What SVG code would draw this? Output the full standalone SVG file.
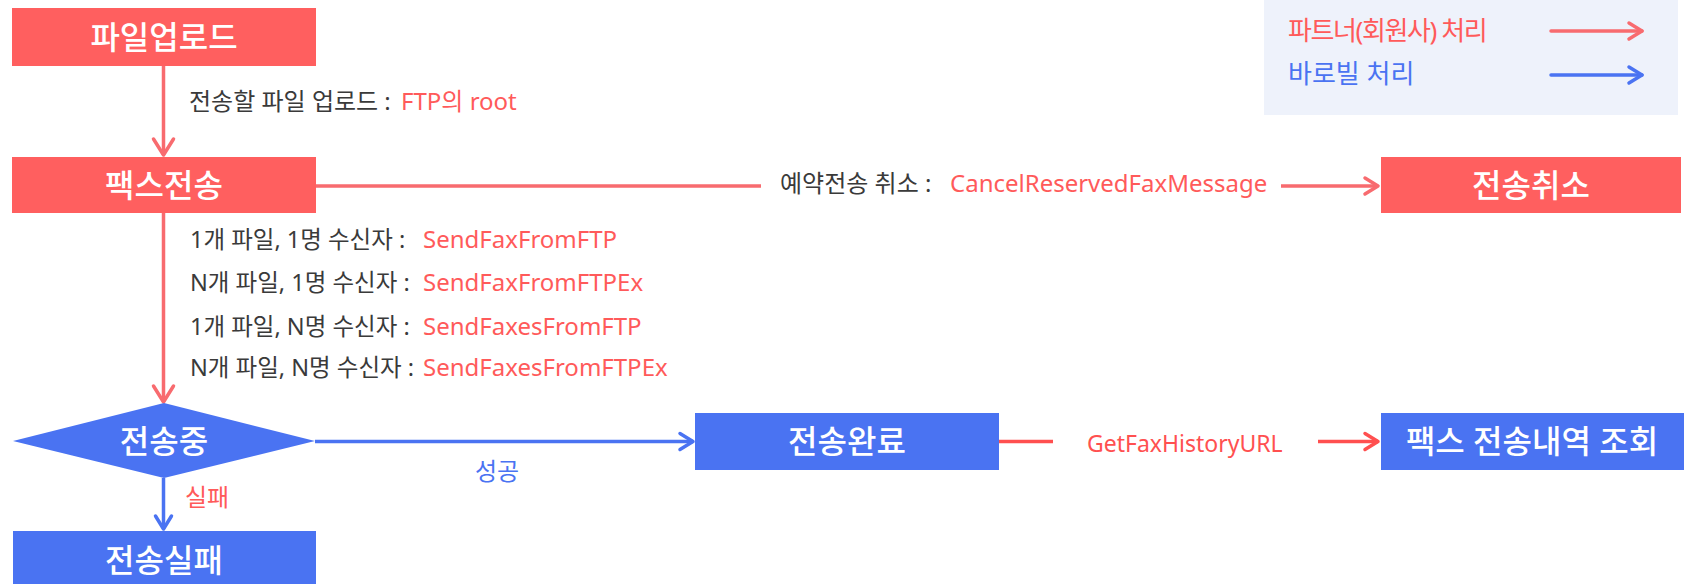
<svg xmlns="http://www.w3.org/2000/svg" width="1693" height="584" viewBox="0 0 1693 584">
  <defs>
    <style>
      text { font-family: "Noto Sans", "Noto Sans CJK KR", "Liberation Sans", sans-serif; }
      .node-red { fill: #FF5F5F; }
      .node-blue { fill: #4A73F2; }
      .ntext { fill: #FFFFFF; font-size: 32px; font-weight: 500; text-anchor: middle; }
      .lbl { fill: #3A3A3A; font-size: 24px; font-weight: 400; }
      .lbl-r { fill: #3A3A3A; font-size: 23.5px; font-weight: 400; }
      .api { fill: #FF5A5A; font-size: 24px; font-weight: 400; }
      .api-s { fill: #FF5050; font-size: 23px; font-weight: 400; }
      .blue-t { fill: #4A73F2; font-size: 24px; font-weight: 400; }
      .red-t { fill: #FF5A5A; font-size: 24px; font-weight: 400; }
      .leg-t { font-size: 26px; font-weight: 400; }
      .c-red { stroke: #F86B6F; stroke-width: 3.5; fill: none; }
      .c-red2 { stroke: #FF4F4F; stroke-width: 3.5; fill: none; }
      .c-blue { stroke: #4A73F2; stroke-width: 3.5; fill: none; }
    </style>
    <marker id="ah-red" viewBox="-20 -14 24 28" refX="0" refY="0" markerWidth="24" markerHeight="28" markerUnits="userSpaceOnUse" orient="auto">
      <path d="M-13,-8 L0,0 L-13,8" fill="none" stroke="#F86B6F" stroke-width="3.5" stroke-linecap="round" stroke-linejoin="round"/>
    </marker>
    <marker id="ah-red-big" viewBox="-20 -14 24 28" refX="0" refY="0" markerWidth="24" markerHeight="28" markerUnits="userSpaceOnUse" orient="auto">
      <path d="M-16,-10 L0,0 L-16,10" fill="none" stroke="#F86B6F" stroke-width="3.5" stroke-linecap="round" stroke-linejoin="round"/>
    </marker>
    <marker id="ah-red2" viewBox="-20 -14 24 28" refX="0" refY="0" markerWidth="24" markerHeight="28" markerUnits="userSpaceOnUse" orient="auto">
      <path d="M-13,-8 L0,0 L-13,8" fill="none" stroke="#FF4F4F" stroke-width="3.5" stroke-linecap="round" stroke-linejoin="round"/>
    </marker>
    <marker id="ah-blue" viewBox="-20 -14 24 28" refX="0" refY="0" markerWidth="24" markerHeight="28" markerUnits="userSpaceOnUse" orient="auto">
      <path d="M-13,-8 L0,0 L-13,8" fill="none" stroke="#4A73F2" stroke-width="3.5" stroke-linecap="round" stroke-linejoin="round"/>
    </marker>
  </defs>

  <rect x="0" y="0" width="1693" height="584" fill="#FFFFFF"/>

  <!-- Legend -->
  <g id="legend">
    <rect x="1264" y="0" width="414" height="115" fill="#EEF2FB"/>
    <text x="1288" y="40" class="leg-t" fill="#FF5A5A" letter-spacing="-1.4">파트너(회원사) 처리</text>
    <text x="1288" y="83" class="leg-t" fill="#4A73F2">바로빌 처리</text>
    <line x1="1551" y1="31" x2="1642" y2="31" class="c-red" stroke-linecap="round" marker-end="url(#ah-red)"/>
    <line x1="1551" y1="75" x2="1642" y2="75" class="c-blue" stroke-linecap="round" marker-end="url(#ah-blue)"/>
  </g>

  <!-- Connectors -->
  <g id="connectors">
    <line x1="163.5" y1="66" x2="163.5" y2="155" class="c-red" marker-end="url(#ah-red-big)"/>
    <path d="M316,186 H761 M1281,186 H1378" class="c-red" marker-end="url(#ah-red)"/>
    <line x1="163.5" y1="213" x2="163.5" y2="402" class="c-red" marker-end="url(#ah-red-big)"/>
    <line x1="315" y1="441.5" x2="693" y2="441.5" class="c-blue" marker-end="url(#ah-blue)"/>
    <line x1="163.5" y1="478" x2="163.5" y2="529" class="c-blue" marker-end="url(#ah-blue)"/>
    <path d="M999,441.5 H1053 M1318,441.5 H1378" class="c-red2" marker-end="url(#ah-red2)"/>
  </g>

  <!-- Connector labels -->
  <g id="labels">
    <text x="189" y="110" class="lbl">전송할 파일 업로드 :</text>
    <text x="401" y="110" class="api">FTP의 root</text>

    <text x="780" y="192" class="lbl">예약전송 취소 :</text>
    <text x="950" y="192" class="api">CancelReservedFaxMessage</text>

    <text x="190" y="248" class="lbl-r">1개 파일, 1명 수신자 :</text>
    <text x="423" y="248" class="api">SendFaxFromFTP</text>
    <text x="190" y="291" class="lbl-r">N개 파일, 1명 수신자 :</text>
    <text x="423" y="291" class="api">SendFaxFromFTPEx</text>
    <text x="190" y="335" class="lbl-r">1개 파일, N명 수신자 :</text>
    <text x="423" y="335" class="api">SendFaxesFromFTP</text>
    <text x="190" y="376" class="lbl-r">N개 파일, N명 수신자 :</text>
    <text x="423" y="376" class="api">SendFaxesFromFTPEx</text>

    <text x="475" y="480" class="blue-t">성공</text>
    <text x="185" y="506" class="red-t">실패</text>
    <text x="1087" y="452" class="api-s">GetFaxHistoryURL</text>
  </g>

  <!-- Nodes -->
  <g id="node-upload">
    <rect x="12" y="8" width="304" height="58" class="node-red"/>
    <text x="164" y="49" class="ntext">파일업로드</text>
  </g>
  <g id="node-faxsend">
    <rect x="12" y="157" width="304" height="56" class="node-red"/>
    <text x="164" y="197" class="ntext">팩스전송</text>
  </g>
  <g id="node-cancel">
    <rect x="1381" y="157" width="300" height="56" class="node-red"/>
    <text x="1531" y="197" class="ntext">전송취소</text>
  </g>
  <g id="node-sending">
    <polygon points="13,441 164,403 315,441 164,478" class="node-blue"/>
    <text x="164" y="453" class="ntext">전송중</text>
  </g>
  <g id="node-done">
    <rect x="695" y="413" width="304" height="57" class="node-blue"/>
    <text x="847" y="453" class="ntext">전송완료</text>
  </g>
  <g id="node-history">
    <rect x="1381" y="413" width="303" height="57" class="node-blue"/>
    <text x="1532" y="453" class="ntext">팩스 전송내역 조회</text>
  </g>
  <g id="node-fail">
    <rect x="13" y="531" width="303" height="61" class="node-blue"/>
    <text x="164" y="572" class="ntext">전송실패</text>
  </g>
</svg>
